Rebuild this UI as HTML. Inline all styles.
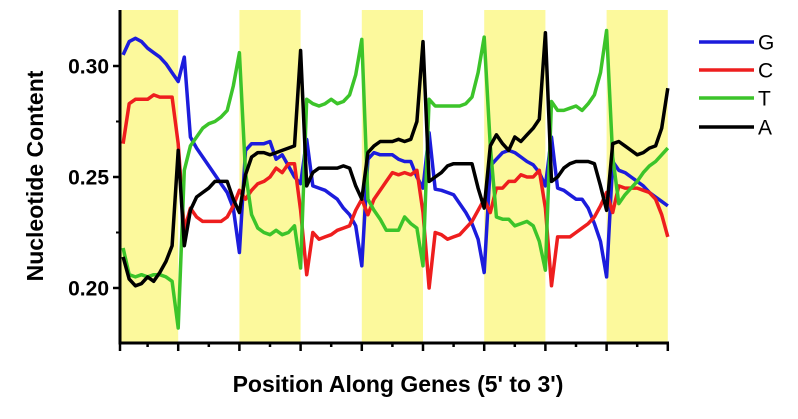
<!DOCTYPE html>
<html><head><meta charset="utf-8">
<style>
html,body{margin:0;padding:0;background:#fff;width:798px;height:419px;overflow:hidden}
svg{display:block;font-family:"Liberation Sans",Arial,sans-serif}
</style></head>
<body>
<svg id="chart" width="798" height="419" viewBox="0 0 798 419" xmlns="http://www.w3.org/2000/svg">
<g id="bands"></g>
<g id="series"></g>
<g id="axes"></g>
<g id="legend"></g>
<text transform="translate(43,176) rotate(-90)" text-anchor="middle" font-size="23" font-weight="bold">Nucleotide Content</text>
<text x="398" y="392" text-anchor="middle" font-size="23" font-weight="bold">Position Along Genes (5' to 3')</text>
</svg>
<script>
const seriesNames = ["G","C","T","A"];
const seriesColors = ["#1c1cdc","#ee1e1e","#3cc42a","#000000"];
const yTicks = [0.20,0.25,0.30];
const yTickLabels = ["0.20","0.25","0.30"];
const bandSegments = [0,2,4,6,8];
const G = [0.305,0.311,0.3125,0.311,0.308,0.306,0.304,0.301,0.297,0.293,0.304,0.268,0.263,0.259,0.255,0.251,0.247,0.243,0.236,0.216,0.262,0.265,0.265,0.265,0.266,0.258,0.260,0.255,0.250,0.247,0.267,0.246,0.245,0.244,0.242,0.240,0.236,0.233,0.228,0.210,0.258,0.261,0.260,0.260,0.260,0.258,0.257,0.257,0.250,0.245,0.270,0.2445,0.244,0.243,0.242,0.238,0.234,0.229,0.222,0.207,0.255,0.258,0.261,0.262,0.261,0.259,0.257,0.2555,0.252,0.246,0.268,0.245,0.244,0.242,0.240,0.240,0.236,0.229,0.221,0.205,0.257,0.253,0.252,0.250,0.248,0.246,0.243,0.241,0.239,0.237];
const C = [0.265,0.283,0.285,0.285,0.285,0.287,0.286,0.286,0.286,0.265,0.226,0.236,0.232,0.230,0.230,0.230,0.230,0.232,0.237,0.244,0.240,0.244,0.247,0.248,0.250,0.254,0.252,0.256,0.256,0.235,0.206,0.225,0.222,0.223,0.224,0.226,0.227,0.228,0.235,0.240,0.233,0.240,0.244,0.248,0.252,0.251,0.252,0.251,0.253,0.234,0.200,0.225,0.224,0.222,0.223,0.224,0.227,0.230,0.235,0.240,0.234,0.245,0.245,0.248,0.248,0.251,0.250,0.250,0.253,0.236,0.201,0.223,0.223,0.223,0.225,0.227,0.229,0.232,0.237,0.243,0.234,0.246,0.245,0.245,0.245,0.244,0.243,0.240,0.233,0.223];
const T = [0.218,0.206,0.205,0.206,0.205,0.206,0.206,0.205,0.203,0.182,0.253,0.264,0.268,0.272,0.274,0.275,0.277,0.280,0.291,0.306,0.252,0.233,0.227,0.225,0.224,0.226,0.224,0.225,0.228,0.209,0.285,0.283,0.282,0.283,0.285,0.283,0.284,0.287,0.296,0.312,0.240,0.235,0.231,0.226,0.226,0.226,0.232,0.229,0.227,0.210,0.285,0.282,0.282,0.282,0.282,0.282,0.283,0.286,0.297,0.313,0.264,0.232,0.231,0.231,0.228,0.229,0.230,0.228,0.221,0.208,0.284,0.280,0.280,0.281,0.282,0.280,0.283,0.287,0.297,0.316,0.259,0.238,0.242,0.245,0.248,0.252,0.255,0.257,0.260,0.263];
const A = [0.214,0.204,0.201,0.202,0.205,0.203,0.207,0.212,0.219,0.262,0.219,0.235,0.241,0.243,0.245,0.248,0.248,0.248,0.240,0.234,0.251,0.259,0.261,0.261,0.260,0.261,0.262,0.263,0.264,0.307,0.246,0.252,0.254,0.254,0.254,0.254,0.255,0.254,0.246,0.240,0.261,0.264,0.266,0.266,0.266,0.267,0.266,0.267,0.275,0.311,0.248,0.250,0.252,0.255,0.256,0.256,0.256,0.256,0.245,0.236,0.264,0.269,0.265,0.262,0.268,0.266,0.269,0.272,0.276,0.315,0.248,0.250,0.254,0.256,0.257,0.257,0.257,0.256,0.246,0.235,0.265,0.266,0.264,0.262,0.260,0.261,0.263,0.264,0.272,0.290];
const seriesData = [G,C,T,A];

const NS="http://www.w3.org/2000/svg";
const X0=117, DX=6.12, PL=120, PR=668, PT=10, PB=343;
function xs(i){return X0+DX*i;}
function ys(v){return 177-(v-0.25)*2220;}
function mk(tag,attrs,parent){const e=document.createElementNS(NS,tag);for(const k in attrs)e.setAttribute(k,attrs[k]);parent.appendChild(e);return e;}

const bands=document.getElementById('bands');
bandSegments.forEach(s=>{
  const a=Math.max(PL,xs(s*10)), b=Math.min(PR,xs(s*10+10));
  const r=mk('rect',{x:a,y:PT,width:b-a,height:PB-PT,fill:'#fcf99c'},bands);
  
  
});

const sg=document.getElementById('series');
seriesData.forEach((arr,k)=>{
  const pts=arr.map((v,j)=>xs(j+1).toFixed(1)+','+ys(v).toFixed(1)).join(' ');
  const p=mk('polyline',{points:pts,fill:'none',stroke:seriesColors[k],'stroke-width':3.5,'stroke-linejoin':'round'},sg);
  
  
});

const ax=document.getElementById('axes');
const yl=mk('line',{x1:PL,y1:PT,x2:PL,y2:PB+1.5,stroke:'#000','stroke-width':3},ax);


const xl=mk('line',{x1:PL-1.5,y1:PB,x2:PR+1,y2:PB,stroke:'#000','stroke-width':3},ax);


yTicks.forEach((v,i)=>{
  mk('line',{x1:PL-7,y1:ys(v),x2:PL,y2:ys(v),stroke:'#000','stroke-width':2.5},ax);
  const t=mk('text',{x:PL-11,y:ys(v)+7.5,'text-anchor':'end','font-size':21,'font-weight':'bold'},ax);
  t.textContent=yTickLabels[i];
  
  
});
[0.225,0.275].forEach(v=>mk('line',{x1:PL-4,y1:ys(v),x2:PL,y2:ys(v),stroke:'#000','stroke-width':2},ax));
for(let s=0;s<=18;s++){
  const x=Math.max(PL,Math.min(PR,xs(s*5)));
  const major=s%2===0;
  mk('line',{x1:x,y1:PB,x2:x,y2:PB+(major?8:4),stroke:'#000','stroke-width':2.5},ax);
}

const lg=document.getElementById('legend');
const ly=[42,70,98,127];
seriesNames.forEach((n,k)=>{
  const l=mk('line',{x1:699,y1:ly[k],x2:754,y2:ly[k],stroke:seriesColors[k],'stroke-width':3.5},lg);
  
  
  const t=mk('text',{x:758,y:ly[k]+7.5,'font-size':21},lg);
  t.textContent=n;
  
  
});
</script>
</body></html>
